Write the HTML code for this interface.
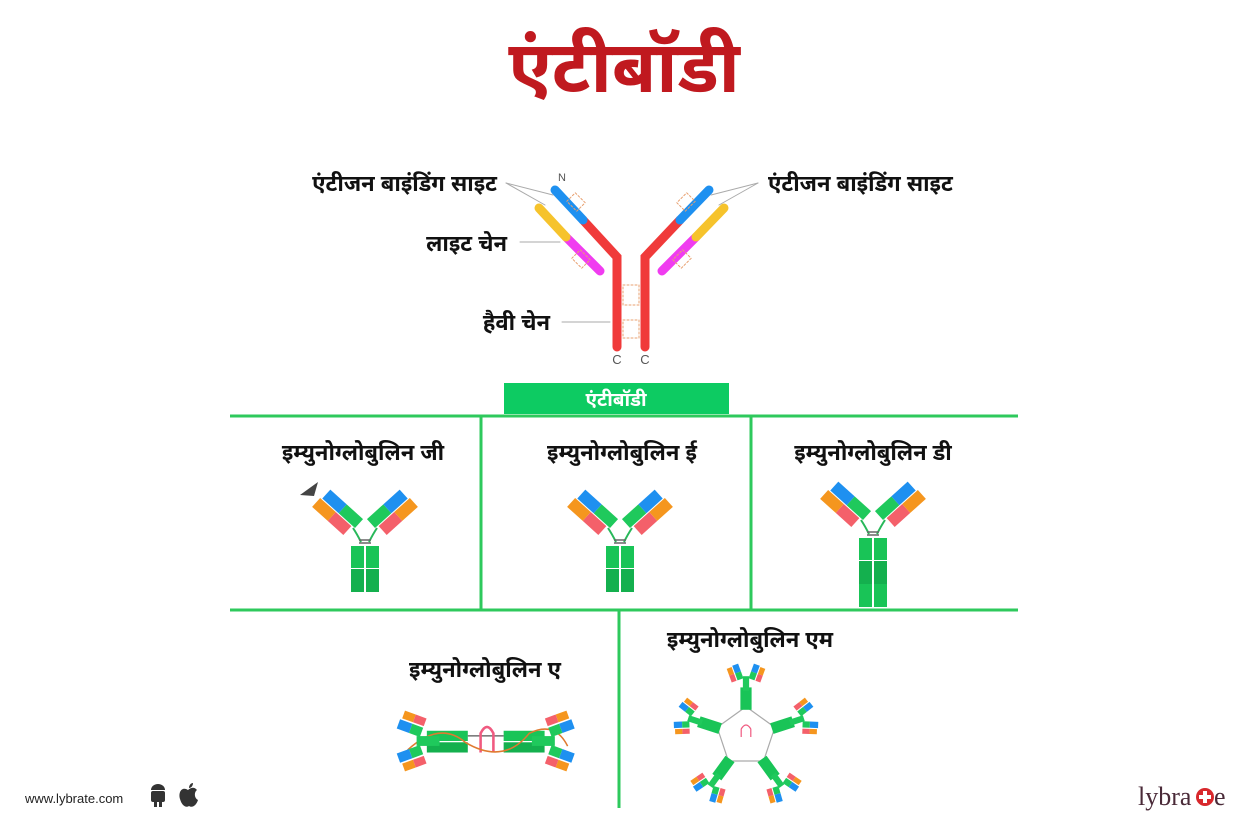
<!DOCTYPE html>
<html><head><meta charset="utf-8">
<style>
html,body{margin:0;padding:0;background:#fff;}
body{width:1248px;height:835px;overflow:hidden;position:relative;font-family:"Liberation Sans","Noto Sans Devanagari","Lohit Devanagari",sans-serif;}
svg{position:absolute;left:0;top:0;}
</style></head><body>
<svg width="1248" height="835" viewBox="0 0 1248 835" xmlns="http://www.w3.org/2000/svg">
<defs>
  <g id="arm">
    <rect x="0" y="-12" width="22" height="12" fill="#1fc95c"/>
    <rect x="22" y="-12" width="22" height="12" fill="#1e90f0"/>
    <rect x="4" y="1" width="21" height="12" fill="#f4606a"/>
    <rect x="25" y="1" width="21" height="12" fill="#f5961e"/>
  </g>
  <g id="y">
    <path d="M-4 12 Q-8 4 -12 -2 M4 12 Q8 4 12 -2" stroke="#28b85a" stroke-width="2" fill="none"/>
    <line x1="-6" y1="10" x2="6" y2="10" stroke="#666" stroke-width="1.5"/>
    <line x1="-6" y1="13" x2="6" y2="13" stroke="#666" stroke-width="1.5"/>
    <rect x="-14" y="16" width="13" height="22" fill="#19c457"/>
    <rect x="1" y="16" width="13" height="22" fill="#19c457"/>
    <rect x="-14" y="39" width="13" height="23" fill="#14b04e"/>
    <rect x="1" y="39" width="13" height="23" fill="#14b04e"/>
    <use href="#arm" transform="translate(10,-2) rotate(-42)"/>
    <use href="#arm" transform="scale(-1,1) translate(10,-2) rotate(-42)"/>
  </g>
  <g id="mini">
    <rect x="-3" y="0" width="6" height="14" fill="#1fc95c"/>
    <g transform="rotate(-20)"><rect x="-9" y="-14" width="6" height="8" fill="#1e90f0"/><rect x="-9" y="-6" width="6" height="7" fill="#1fc95c"/><rect x="-15" y="-13" width="5" height="7" fill="#f5961e"/><rect x="-15" y="-6" width="5" height="7" fill="#f4606a"/></g>
    <g transform="scale(-1,1) rotate(-20)"><rect x="-9" y="-14" width="6" height="8" fill="#1e90f0"/><rect x="-9" y="-6" width="6" height="7" fill="#1fc95c"/><rect x="-15" y="-13" width="5" height="7" fill="#f5961e"/><rect x="-15" y="-6" width="5" height="7" fill="#f4606a"/></g>
  </g>
</defs>

<text x="624" y="92" text-anchor="middle" font-size="72" font-weight="bold" fill="#c0191f">एंटीबॉडी</text>

<!-- main antibody -->
<g stroke-linecap="round" fill="none">
  <polyline points="617,347 617,257 583,220" stroke="#f03a3a" stroke-width="9"/>
  <polyline points="645,347 645,257 680,220" stroke="#f03a3a" stroke-width="9"/>
  <line x1="583" y1="220" x2="555" y2="190" stroke="#1e90f0" stroke-width="9"/>
  <line x1="680" y1="220" x2="709" y2="190" stroke="#1e90f0" stroke-width="9"/>
  <line x1="600" y1="271" x2="566" y2="237" stroke="#f03cf0" stroke-width="9"/>
  <line x1="566" y1="237" x2="539" y2="208" stroke="#f6c32c" stroke-width="9"/>
  <line x1="662" y1="271" x2="696" y2="237" stroke="#f03cf0" stroke-width="9"/>
  <line x1="696" y1="237" x2="724" y2="208" stroke="#f6c32c" stroke-width="9"/>
  <g stroke="#e8a070" stroke-width="1" stroke-dasharray="2,2">
    <rect x="623" y="285" width="16" height="20"/><rect x="623" y="320" width="16" height="18"/>
    <rect x="570" y="195" width="12" height="14" transform="rotate(-45 576 202)"/>
    <rect x="680" y="195" width="12" height="14" transform="rotate(45 686 202)"/>
    <rect x="575" y="252" width="12" height="14" transform="rotate(-45 581 259)"/>
    <rect x="676" y="252" width="12" height="14" transform="rotate(45 682 259)"/>
  </g>
  <g stroke="#aaa" stroke-width="1">
    <line x1="506" y1="183" x2="553" y2="195"/><line x1="506" y1="183" x2="545" y2="205"/>
    <line x1="758" y1="183" x2="711" y2="195"/><line x1="758" y1="183" x2="719" y2="205"/>
    <line x1="520" y1="242" x2="560" y2="242"/>
    <line x1="562" y1="322" x2="610" y2="322"/>
  </g>
</g>
<text x="562" y="181" font-size="11" fill="#555" text-anchor="middle">N</text>
<text x="617" y="364" font-size="13" fill="#555" text-anchor="middle">C</text>
<text x="645" y="364" font-size="13" fill="#555" text-anchor="middle">C</text>
<g font-size="22" fill="#111" font-weight="bold">
<text x="497" y="191" text-anchor="end">एंटीजन बाइंडिंग साइट</text>
<text x="768" y="191">एंटीजन बाइंडिंग साइट</text>
<text x="507" y="251" text-anchor="end">लाइट चेन</text>
<text x="550" y="330" text-anchor="end">हैवी चेन</text>
</g>

<!-- grid -->
<rect x="504" y="383" width="225" height="31" fill="#0dcb62"/>
<text x="616" y="406" text-anchor="middle" font-size="19" fill="#fff" font-weight="bold">एंटीबॉडी</text>
<g stroke="#2ec95c" stroke-width="3">
<line x1="230" y1="416" x2="1018" y2="416"/>
<line x1="481" y1="416" x2="481" y2="610"/>
<line x1="751" y1="416" x2="751" y2="610"/>
<line x1="230" y1="610" x2="1018" y2="610"/>
<line x1="619" y1="610" x2="619" y2="808"/>
</g>
<g font-size="22" fill="#111" text-anchor="middle" font-weight="bold">
<text x="363" y="460">इम्युनोग्लोबुलिन जी</text>
<text x="622" y="460">इम्युनोग्लोबुलिन ई</text>
<text x="873" y="460">इम्युनोग्लोबुलिन डी</text>
<text x="485" y="677">इम्युनोग्लोबुलिन ए</text>
<text x="750" y="647">इम्युनोग्लोबुलिन एम</text>
</g>

<use href="#y" transform="translate(365,530)"/>
<path d="M300 495 L318 482 L314 496 Z" fill="#444"/>
<use href="#y" transform="translate(620,530)"/>
<g transform="translate(873,522)"><use href="#y"/>
<rect x="-14" y="62" width="13" height="23" fill="#19c457"/><rect x="1" y="62" width="13" height="23" fill="#19c457"/></g>

<!-- IgA -->
<g transform="translate(487,741) scale(1.28) translate(-487,-741)">
<rect x="440" y="733" width="32" height="8" fill="#19c457"/><rect x="440" y="742" width="32" height="8" fill="#14b04e"/>
<rect x="500" y="733" width="32" height="8" fill="#19c457"/><rect x="500" y="742" width="32" height="8" fill="#14b04e"/>
<line x1="472" y1="737" x2="500" y2="737" stroke="#555"/>
<path d="M482 750 V735 Q487 725 492 735 V750" stroke="#f05a80" stroke-width="2" fill="none"/>
<path d="M425 748 Q450 725 470 742 Q500 760 520 735 Q540 725 550 745" stroke="#e07a30" stroke-width="1.2" fill="none"/>
<g transform="translate(432,741) rotate(-90) scale(0.8)"><use href="#mini" transform="scale(1.6)"/></g>
<g transform="translate(540,741) rotate(90) scale(0.8)"><use href="#mini" transform="scale(1.6)"/></g>
</g>

<!-- IgM -->
<g transform="translate(746,737) scale(0.8)">
<polygon points="0,-38 36,-12 22,30 -22,30 -36,-12" fill="none" stroke="#aaa" stroke-width="1.5"/>
<path d="M-6 0 V-10 Q0 -20 6 -10 V0" stroke="#f05a80" stroke-width="1.5" fill="none"/>
<g transform="rotate(0)"><rect x="-7" y="-62" width="14" height="28" fill="#19c457"/><use href="#mini" transform="translate(0,-76) scale(1.3)"/></g>
<g transform="rotate(72)"><rect x="-7" y="-62" width="14" height="28" fill="#19c457"/><use href="#mini" transform="translate(0,-76) scale(1.3)"/></g>
<g transform="rotate(144)"><rect x="-7" y="-62" width="14" height="28" fill="#19c457"/><use href="#mini" transform="translate(0,-76) scale(1.3)"/></g>
<g transform="rotate(216)"><rect x="-7" y="-62" width="14" height="28" fill="#19c457"/><use href="#mini" transform="translate(0,-76) scale(1.3)"/></g>
<g transform="rotate(288)"><rect x="-7" y="-62" width="14" height="28" fill="#19c457"/><use href="#mini" transform="translate(0,-76) scale(1.3)"/></g>
</g>

<!-- footer -->
<text x="25" y="803" font-size="13" fill="#222">www.lybrate.com</text>
<g fill="#333">
<rect x="151" y="791" width="14" height="11" rx="2"/><rect x="154" y="801" width="3" height="6"/><rect x="159" y="801" width="3" height="6"/>
<path d="M151 790 A7 6 0 0 1 165 790 Z"/>
<path d="M188 790 C182 786 178 792 180 799 C182 806 186 808 189 806 C192 808 196 806 198 800 C194 798 194 792 197 790 C194 786 190 788 188 790 Z"/>
<path d="M189 788 C189 785 191 783 193 783 C193 786 191 788 189 788 Z"/>
</g>
<text x="1138" y="805" font-size="26" fill="#4a2a38" font-family="Liberation Serif, serif">lybra</text>
<circle cx="1205" cy="797" r="9" fill="#d8282c"/>
<rect x="1199" y="795" width="12" height="4" fill="#fff"/><rect x="1203" y="791" width="4" height="12" fill="#fff"/>
<text x="1214" y="805" font-size="26" fill="#4a2a38" font-family="Liberation Serif, serif">e</text>
</svg>
</body></html>
